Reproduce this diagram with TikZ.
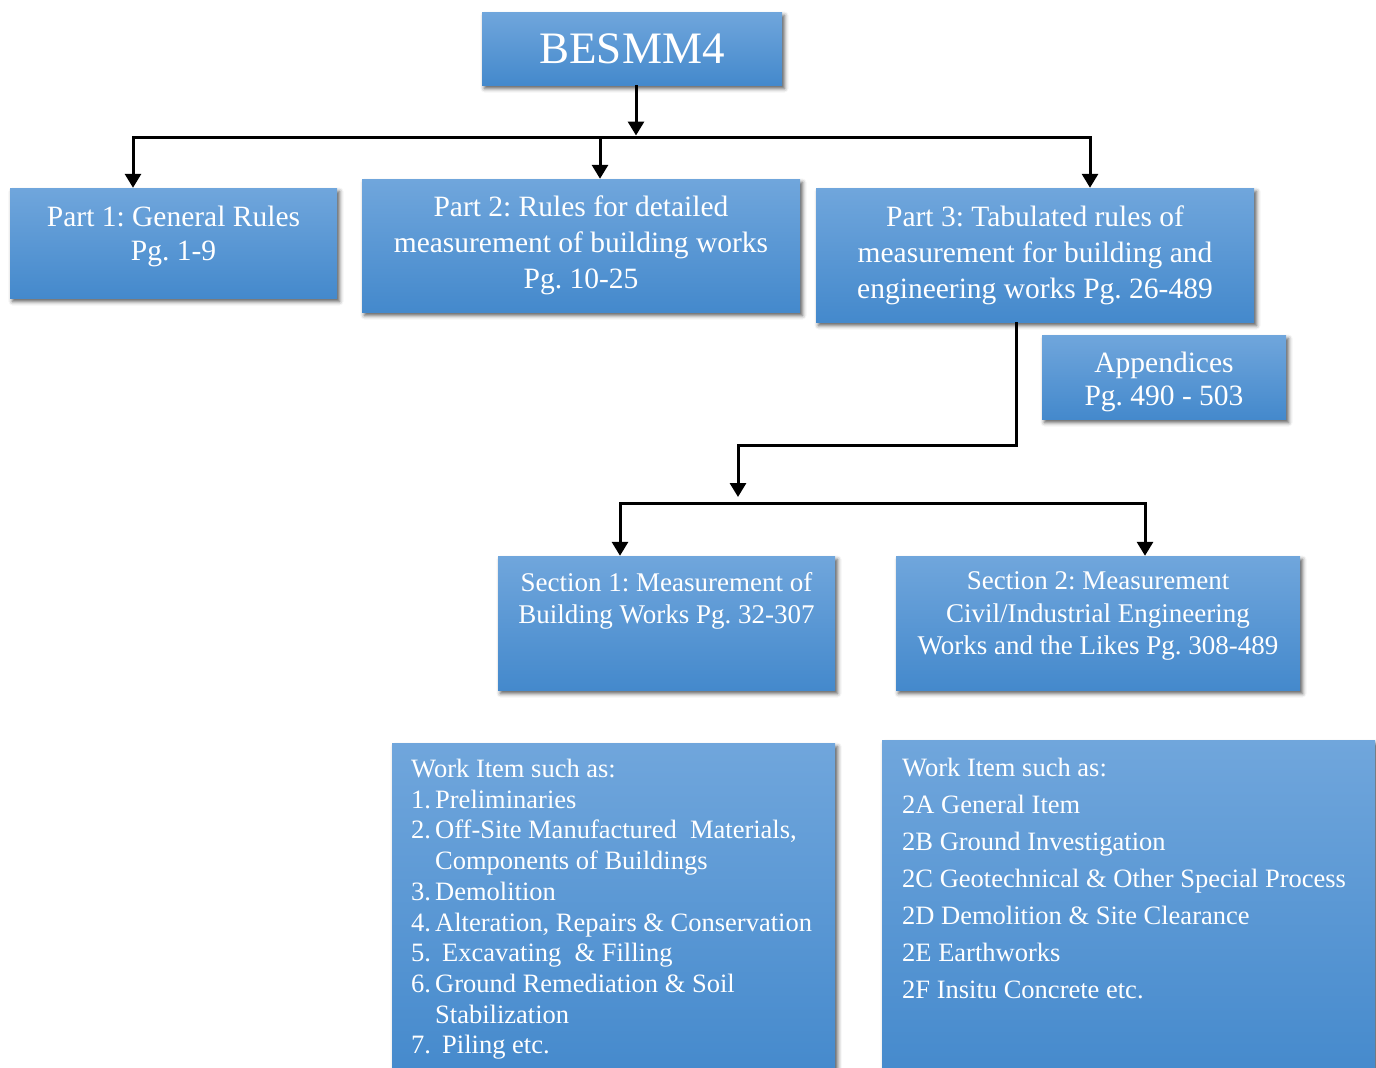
\documentclass[tikz,border=0pt]{standalone}
\usepackage{fontspec}
\setmainfont{Liberation Serif}
\usetikzlibrary{arrows.meta,shadows.blur}

\definecolor{boxtop}{RGB}{112,166,220}
\definecolor{boxbot}{RGB}{68,137,204}
\newcommand{\itemno}[1]{\makebox[24pt][l]{#1}}
\frenchspacing

\begin{document}
\begin{tikzpicture}[x=1pt, y=-1pt,
    box/.style={top color=boxtop, bottom color=boxbot, text=white, align=center, inner sep=0pt,
        blur shadow={shadow xshift=2.5pt, shadow yshift=-3.5pt, shadow blur radius=4pt, shadow opacity=65}},
    link/.style={line width=3pt},
    >={Triangle[width=16pt,length=14pt]}]

    \useasboundingbox (0,0) rectangle (1376,1068);

    \node at (632,48.5) (top) [box, minimum width=300pt, minimum height=73pt, font=\fontsize{45}{54}\selectfont] {BESMM4};

    \node at (173.5,243) (p1) [box, font=\fontsize{29.5}{34}\selectfont] {\parbox[c][110pt][t]{327pt}{\centering\vspace*{18pt}Part 1: General Rules\\Pg. 1-9}};
    \node at (581,245.5) (p2) [box, minimum width=438pt, minimum height=133pt, font=\fontsize{29.5}{36}\selectfont] {Part 2: Rules for detailed\\measurement of building works\\Pg. 10-25};
    \node at (1035,255) (p3) [box, minimum width=438pt, minimum height=134pt, font=\fontsize{29.5}{36}\selectfont] {Part 3: Tabulated rules of\\measurement for building and\\engineering works Pg. 26-489};
    \node at (1164,377) (app) [box, font=\fontsize{29.5}{33}\selectfont] {\parbox[c][84pt][t]{244pt}{\centering\vspace*{17pt}Appendices\\Pg. 490 - 503}};

    \node at (666.5,623) (s1) [box, font=\fontsize{27}{32.5}\selectfont] {\parbox[c][134pt][t]{337pt}{\centering\vspace*{16pt}Section 1: Measurement of\\Building Works Pg. 32-307}};
    \node at (1098,623) (s2) [box, font=\fontsize{27}{32.5}\selectfont] {\parbox[c][134pt][t]{404pt}{\centering\vspace*{16pt}Section 2: Measurement\\Civil/Industrial Engineering\\Works and the Likes Pg. 308-489}};

    \node at (392,743) (w1) [box, anchor=north west, inner xsep=19pt, align=left, font=\fontsize{26.5}{30.7}\selectfont] {\parbox[c][340pt][t]{405pt}{\raggedright\vspace*{16pt}Work Item such as:\\
        \itemno{1.}Preliminaries\\
        \itemno{2.}Off-Site Manufactured\ \ Materials,\\
        \hspace*{24pt}Components of Buildings\\
        \itemno{3.}Demolition\\
        \itemno{4.}Alteration, Repairs \& Conservation\\
        \itemno{5.}\hspace{7pt}Excavating\ \ \& Filling\\
        \itemno{6.}Ground Remediation \& Soil\\
        \hspace*{24pt}Stabilization\\
        \itemno{7.}\hspace{7pt}Piling etc.}};
    \node at (882,740) (w2) [box, anchor=north west, inner xsep=20pt, align=left, font=\fontsize{26.5}{37}\selectfont] {\parbox[c][345pt][t]{453pt}{\raggedright\vspace*{18pt}Work Item such as:\\
        2A General Item\\
        2B Ground Investigation\\
        2C Geotechnical \& Other Special Process\\
        2D Demolition \& Site Clearance\\
        2E Earthworks\\
        2F Insitu Concrete etc.}};

    % junctions
    \coordinate (j0) at (636,135.5);
    \coordinate (j1) at (133,137);
    \coordinate (j2) at (600,137);
    \coordinate (j3) at (1090,137);
    \coordinate (k0) at (1016,445);
    \coordinate (k1) at (738,445);
    \coordinate (k2) at (738,497);
    \coordinate (m1) at (620,503);
    \coordinate (m2) at (1145,503);

    \draw[link, ->] (top.south -| j0) -- (j0);
    \draw[link, <->] (p1.north -| j1) -- (j1) -- (j3) -- (p3.north -| j3);
    \draw[link, ->] (j2) -- (p2.north -| j2);

    \draw[link, ->] (p3.south -| k0) |- (k1) -- (k2);
    \draw[link, <->] (s1.north -| m1) -- (m1) -- (m2) -- (s2.north -| m2);

\end{tikzpicture}
\end{document}
